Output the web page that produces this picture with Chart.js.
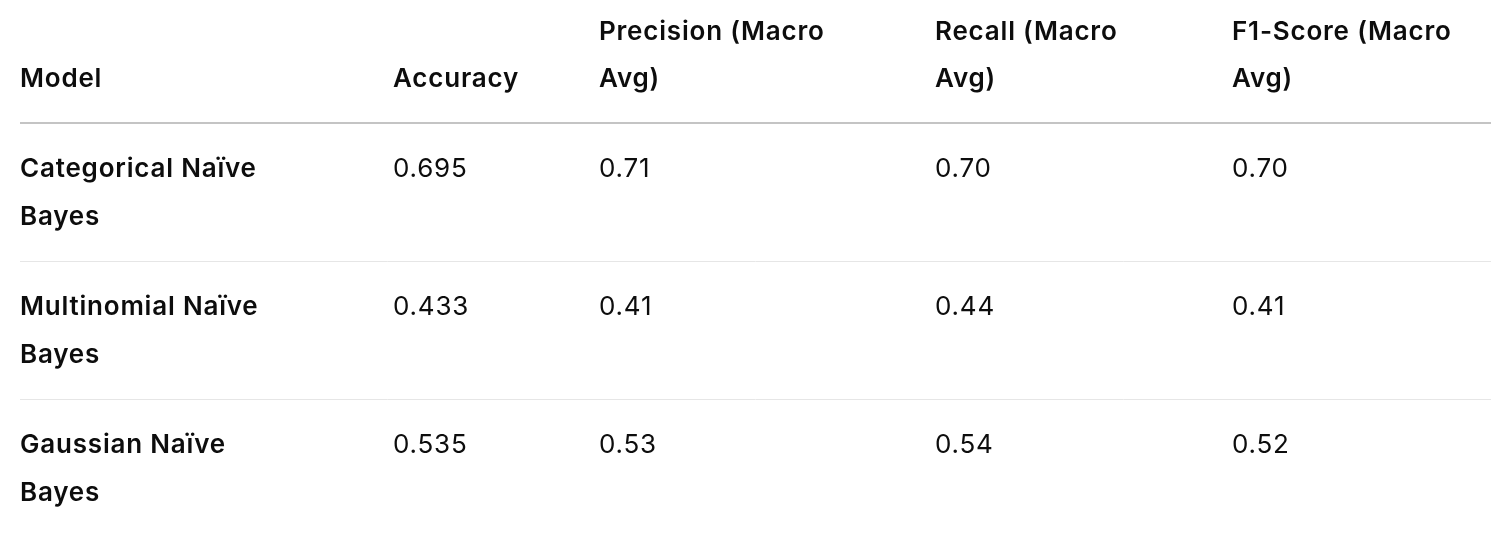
<!DOCTYPE html>
<html>
<head>
<meta charset="utf-8">
<script src="https://cdn.jsdelivr.net/npm/chart.js@4"></script>
<style>
  body { margin: 0; background: #fff; }
  #wrap { width: 1512px; height: 552px; }
</style>
</head>
<body>
<div id="wrap"><canvas id="chart"></canvas></div>
<script>
// Table content
const headers = [["Model"], ["Accuracy"], ["Precision (Macro", "Avg)"], ["Recall (Macro", "Avg)"], ["F1-Score (Macro", "Avg)"]];
const models = [["Categorical Naïve", "Bayes"], ["Multinomial Naïve", "Bayes"], ["Gaussian Naïve", "Bayes"]];
const accuracy = ["0.695", "0.433", "0.535"];
const precision = ["0.71", "0.41", "0.53"];
const recall = ["0.70", "0.44", "0.54"];
const f1 = ["0.70", "0.41", "0.52"];

// layout (pixel units of the scales)
const colX = [20, 393, 599, 935, 1232];
const headerLines = [32, 79];
const rowTops = [169, 307, 445];
const lineGap = 48;
const headerRule = 123;
const rowRules = [261, 399];
const font = '"Inter", "Noto Sans", sans-serif';

const tablePlugin = {
    id: "table",
    afterDraw(chart) {
        const ctx = chart.ctx;
        const x = v => chart.scales.x.getPixelForValue(v);
        const y = v => chart.scales.y.getPixelForValue(v);
        ctx.save();
        ctx.fillStyle = "#0d0d0d";
        ctx.textBaseline = "middle";
        ctx.textAlign = "left";
        ctx.letterSpacing = "0.8px";

        // header
        ctx.font = "600 26px " + font;
        headers.forEach((h, c) => {
            const start = h.length === 1 ? 1 : 0;
            h.forEach((t, i) => ctx.fillText(t, x(colX[c]), y(headerLines[start + i])));
        });

        // rows
        const cols = [accuracy, precision, recall, f1];
        models.forEach((m, r) => {
            ctx.font = "600 26px " + font;
            m.forEach((t, i) => ctx.fillText(t, x(colX[0]), y(rowTops[r] + i * lineGap)));
            ctx.font = "400 26px " + font;
            cols.forEach((col, c) => ctx.fillText(col[r], x(colX[c + 1]), y(rowTops[r])));
        });

        // rules
        ctx.strokeStyle = "#c4c4c4";
        ctx.lineWidth = 2;
        ctx.beginPath();
        ctx.moveTo(x(20), y(headerRule));
        ctx.lineTo(x(1491), y(headerRule));
        ctx.stroke();
        ctx.strokeStyle = "#e6e6e6";
        ctx.lineWidth = 1;
        rowRules.forEach(r => {
            ctx.beginPath();
            ctx.moveTo(x(20), y(r) + 0.5);
            ctx.lineTo(x(1491), y(r) + 0.5);
            ctx.stroke();
        });
        ctx.restore();
    }
};

const ctx = document.getElementById("chart").getContext("2d");
new Chart(ctx, {
    type: "scatter",
    data: { datasets: [{ data: [] }] },
    options: {
        responsive: true,
        maintainAspectRatio: false,
        animation: false,
        layout: { padding: 0 },
        plugins: { legend: { display: false }, tooltip: { enabled: false } },
        scales: {
            x: { type: "linear", min: 0, max: 1512, display: false },
            y: { type: "linear", min: 0, max: 552, reverse: true, display: false }
        }
    },
    plugins: [tablePlugin]
});
</script>
</body>
</html>
